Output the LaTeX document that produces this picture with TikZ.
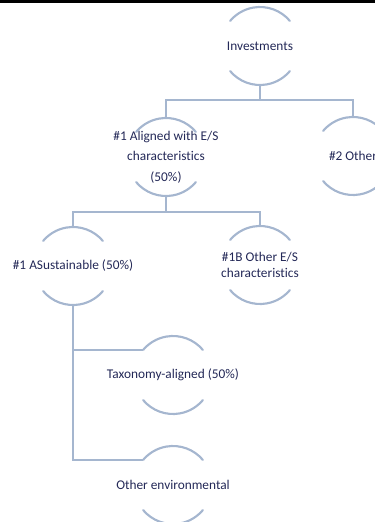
\documentclass[tikz,border=0pt]{standalone}
\usepackage{fontspec}
\setmainfont{Carlito}[Ligatures={NoCommon}]
\definecolor{arccol}{HTML}{A5B6CF}
\definecolor{txtcol}{HTML}{232857}
\begin{document}
\begin{tikzpicture}[x=0.75pt,y=-0.75pt,
  lbl/.style={inner sep=0pt,align=center,text=txtcol,font=\fontsize{10pt}{15pt}\selectfont},
  conn/.style={draw=arccol,line width=1.6pt},
  arcline/.style={draw=arccol,line width=1.6pt,line cap=round}]
\useasboundingbox (0,0) rectangle (375,522);
\clip (0,0) rectangle (375,522);
\fill[black] (0,0) rectangle (375,2.6);
% nodes
\node[lbl] (inv) at (260,46) {Investments};
\node[lbl,font=\fontsize{10pt}{15.5pt}\selectfont] (a1) at (166,157) {\#1 Aligned with E/S\\characteristics\\(50\%)};
\node[lbl] (a2) at (353,156) {\#2 Other};
\node[lbl] (s) at (73,266) {\#1 ASustainable (50\%)};
\node[lbl,font=\fontsize{10pt}{12pt}\selectfont] (b) at (260,265) {\#1B Other E/S\\characteristics};
\node[lbl] (tax) at (173,375) {Taxonomy-aligned (50\%)};
\node[lbl] (oth) at (173,485) {Other environmental};
% arcs
\foreach \n in {inv,a1,a2,s,b,tax,oth}{
  \draw[arcline] ([shift={(40:29.25pt)}]\n.center) arc[start angle=40,end angle=140,radius=29.25pt];
  \draw[arcline] ([shift={(220:29.25pt)}]\n.center) arc[start angle=220,end angle=320,radius=29.25pt];
}
% connectors
\draw[conn] ([yshift=-29.25pt]inv.center) -- ++(0,15) -| ([yshift=29.25pt]a1.center);
\draw[conn] ([yshift=-29.25pt]inv.center) -- ++(0,15) -| ([yshift=29.25pt]a2.center);
\draw[conn] ([yshift=-29.25pt]a1.center) -- ++(0,16) -| ([yshift=29.25pt]s.center);
\draw[conn] ([yshift=-29.25pt]a1.center) -- ++(0,16) -| ([yshift=29.25pt]b.center);
\draw[conn] ([yshift=-29.25pt]s.center) |- ([shift={(140:29.25pt)}]tax.center);
\draw[conn] ([yshift=-29.25pt]s.center) |- ([shift={(140:29.25pt)}]oth.center);
\end{tikzpicture}
\end{document}
